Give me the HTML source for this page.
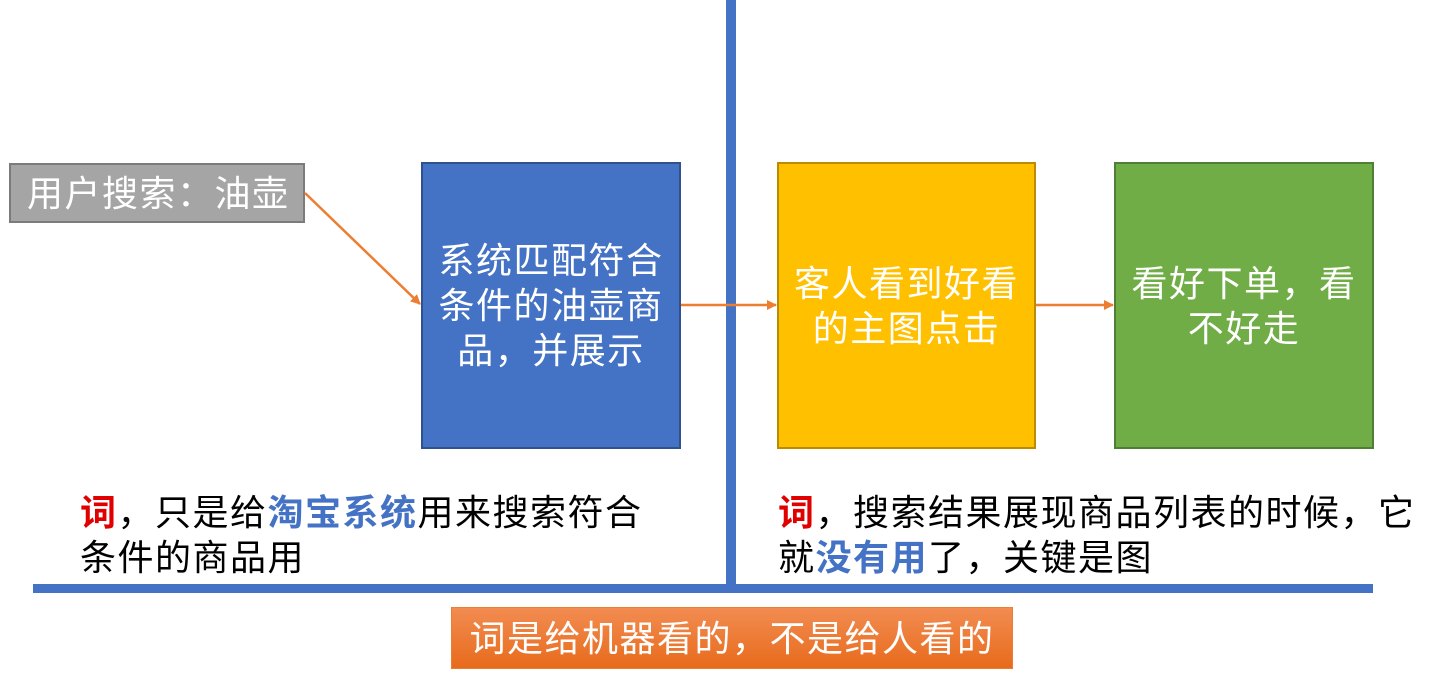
<!DOCTYPE html><html><head><meta charset="utf-8"><style>
body{margin:0;width:1441px;height:683px;background:#fff;position:relative;overflow:hidden;font-family:"Liberation Sans","Noto Sans CJK SC",sans-serif}
div{position:absolute;box-sizing:border-box}
.b{display:flex;align-items:center;justify-content:center;text-align:center;color:#fff;font-size:36px;letter-spacing:1.5px;line-height:45px;padding:0 8px}
.t{font-size:36px;letter-spacing:1.5px;line-height:45px;color:#000}
.r{color:#e00000;font-weight:bold}.u{color:#4472c4;font-weight:bold}
</style></head><body>
<div class="b" style="left:9px;top:163px;width:296px;height:60px;background:#a5a5a5;border:2px solid #7b7b7b;justify-content:flex-start;padding-left:16px">用户搜索：油壶</div>
<div class="b" style="left:421px;top:162px;width:260px;height:287px;background:#4472c4;border:2px solid #2f528f">系统匹配符合条件的油壶商品，并展示</div>
<div class="b" style="left:777px;top:162px;width:259px;height:287px;background:#ffc000;border:2px solid #bc8c00">客人看到好看的主图点击</div>
<div class="b" style="left:1114px;top:162px;width:260px;height:287px;background:#70ad47;border:2px solid #507e32">看好下单，看不好走</div>
<div style="left:726px;top:0;width:10px;height:584px;background:#4472c4"></div>
<div style="left:33px;top:584px;width:1340px;height:9px;background:#4472c4"></div>
<svg style="position:absolute;left:0;top:0" width="1441" height="683">
<defs><marker id="a" markerWidth="10" markerHeight="10" refX="9" refY="5" orient="auto" markerUnits="userSpaceOnUse"><path d="M0,0L10,5L0,10z" fill="#ed7d31"/></marker></defs>
<g stroke="#ed7d31" stroke-width="2.5" fill="none">
<line x1="305" y1="193" x2="420" y2="304" marker-end="url(#a)"/>
<line x1="681" y1="305" x2="776" y2="305" marker-end="url(#a)"/>
<line x1="1036" y1="305" x2="1113" y2="305" marker-end="url(#a)"/>
</g></svg>
<div class="t" style="left:80px;top:490px;width:640px"><span class="r">词</span>，只是给<span class="u">淘宝系统</span>用来搜索符合<br>条件的商品用</div>
<div class="t" style="left:778px;top:490px;width:663px"><span class="r">词</span>，搜索结果展现商品列表的时候，它<br>就<span class="u">没有用</span>了，关键是图</div>
<div class="b" style="left:451px;top:607px;width:562px;height:62px;background:linear-gradient(#f28c51,#e86b1c);border:1px solid #ed7d31">词是给机器看的，不是给人看的</div>
</body></html>
